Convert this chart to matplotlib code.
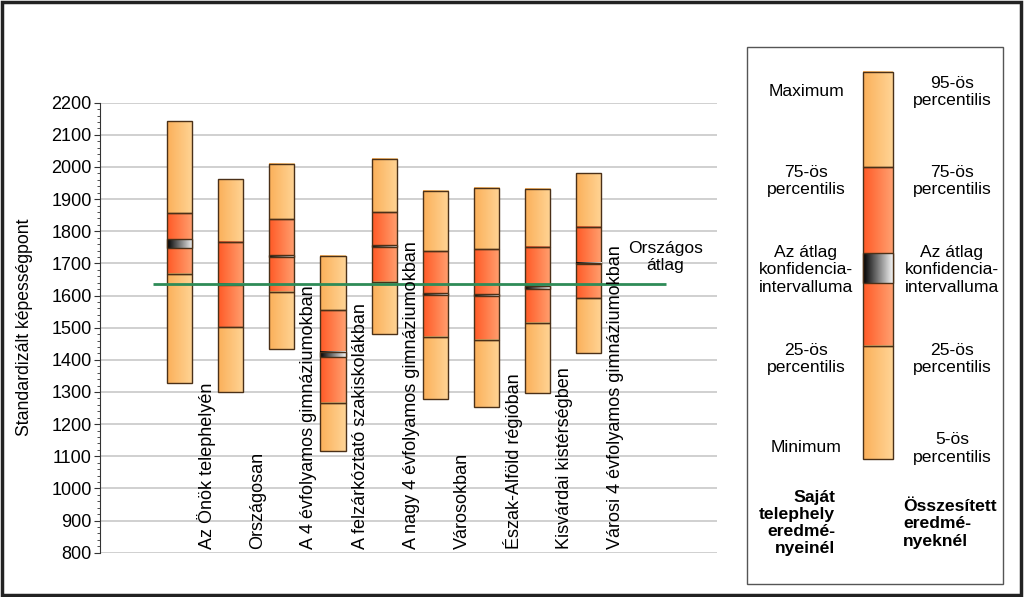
import numpy as np
import matplotlib
matplotlib.use("Agg")
import matplotlib.pyplot as plt
from matplotlib.colors import LinearSegmentedColormap
from matplotlib.patches import Rectangle

plt.rcParams['font.family'] = ['Liberation Sans', 'DejaVu Sans']

# Adatok (leolvasva)
categories = ["Az Önök telephelyén", "Országosan", "A 4 évfolyamos gimnáziumokban",
              "A felzárkóztató szakiskolákban", "A nagy 4 évfolyamos gimnáziumokban",
              "Városokban", "Észak-Alföld régióban", "Kisvárdai kistérségben",
              "Városi 4 évfolyamos gimnáziumokban"]
top = [2142, 1963, 2009, 1724, 2026, 1925, 1936, 1933, 1980]
q3 = [1856, 1768, 1837, 1555, 1859, 1738, 1744, 1752, 1812]
ci_hi = [1775, 1637, 1725, 1425, 1756, 1607, 1604, 1630, 1702]
ci_lo = [1747, 1633, 1721, 1408, 1752, 1603, 1600, 1619, 1698]
q1 = [1667, 1502, 1612, 1267, 1643, 1472, 1461, 1514, 1591]
bottom = [1327, 1301, 1433, 1116, 1479, 1278, 1252, 1296, 1420]
orszagos_atlag = 1635

light = LinearSegmentedColormap.from_list('light', ['#FBB05A', '#FFD495'])
red = LinearSegmentedColormap.from_list('red', ['#FF5A26', '#FFA070'])
cimap = LinearSegmentedColormap.from_list('ci', ['#000000', '#F2F2F2'])
edge = '#4a3018'
grad = np.linspace(0, 1, 64).reshape(1, -1)
fs = 12.8


def segment(ax, x0, x1, y0, y1, cmap, z=2):
    ax.imshow(grad, extent=[x0, x1, y0, y1], cmap=cmap, aspect='auto',
              interpolation='bilinear', zorder=z)
    ax.add_patch(Rectangle((x0, min(y0, y1)), x1 - x0, abs(y1 - y0), fill=False,
                           ec=edge, lw=1.0, zorder=z + 0.1))


fig = plt.figure(figsize=(10.24, 5.97), dpi=100)
ax = fig.add_axes([100/1024, 1 - 552.7/597, 617/1024, 450/597])

w = 0.49
for i in range(len(categories)):
    x0, x1 = i - w/2, i + w/2
    segment(ax, x0, x1, q3[i], top[i], light)
    segment(ax, x0, x1, q1[i], q3[i], red)
    segment(ax, x0, x1, bottom[i], q1[i], light)
    segment(ax, x0, x1, ci_lo[i], ci_hi[i], cimap, z=2.5)
    ax.text(i + 0.53, 812, categories[i], rotation=90, ha='center', va='bottom',
            fontsize=13, zorder=4)

ax.hlines(orszagos_atlag, -0.52, 9.52, color='#2E8B57', lw=2.0, zorder=3)
ax.text(9.5, 1720, "Országos\nátlag", ha='center', va='center', fontsize=12.6,
        linespacing=1.15)

ax.set_xlim(-1.556, 10.51)
ax.set_ylim(800, 2200)
ax.set_yticks(np.arange(800, 2201, 100))
ax.set_yticks(np.arange(800, 2201, 20), minor=True)
ax.set_xticks([])
ax.grid(axis='y', which='major', color='#c8c8c8', lw=1.2)
ax.set_axisbelow(True)
for s in ['top', 'right', 'bottom']:
    ax.spines[s].set_visible(False)
ax.spines['left'].set_color('#333333')
ax.tick_params(axis='y', which='major', length=4, color='#333333', labelsize=13, pad=2)
ax.tick_params(axis='y', which='minor', length=2.5, color='#333333')
ax.set_ylabel("Standardizált képességpont", fontsize=12.7)
ax.yaxis.set_label_coords(-0.108, 0.5)

# Jelmagyarazat
lg = fig.add_axes([0, 0, 1, 1], zorder=-1)
lg.axis('off')
lg.add_patch(Rectangle((747, 47), 256, 537, fill=False, ec='#555555', lw=1))
segment(lg, 863, 893, 71.7, 167.3, light)
segment(lg, 863, 893, 167.3, 345.7, red)
segment(lg, 863, 893, 345.7, 459.3, light)
segment(lg, 863, 893, 253.3, 283.3, cimap, z=2.5)
lg.set_xlim(0, 1024)
lg.set_ylim(597, 0)

left_txt = [("Maximum", 91.7), ("75-ös\npercentilis", 180.7),
            ("Az átlag\nkonfidencia-\nintervalluma", 270), ("25-ös\npercentilis", 359),
            ("Minimum", 448)]
right_txt = [("95-ös\npercentilis", 91.7), ("75-ös\npercentilis", 180.7),
             ("Az átlag\nkonfidencia-\nintervalluma", 270), ("25-ös\npercentilis", 359),
             ("5-ös\npercentilis", 448.5)]
for t, y in left_txt:
    lg.text(806, y, t, ha='center', va='center', fontsize=12.6, linespacing=1.18)
for t, y in right_txt:
    lg.text(952, y, t, ha='center', va='center', fontsize=12.6, linespacing=1.18)
lg.text(835, 523, "Saját\ntelephely\neredmé-\nnyeinél", ha='right', va='center',
        fontsize=12.6, fontweight='bold', linespacing=1.18, multialignment='right')
lg.text(903, 524, "Összesített\neredmé-\nnyeknél", ha='left', va='center',
        fontsize=12.6, fontweight='bold', linespacing=1.18)

fig.patches.append(Rectangle((0.002, 0.003), 0.995, 0.993, transform=fig.transFigure,
                             fill=False, ec='#222222', lw=2.5))

fig.savefig("out.png", dpi=100)
